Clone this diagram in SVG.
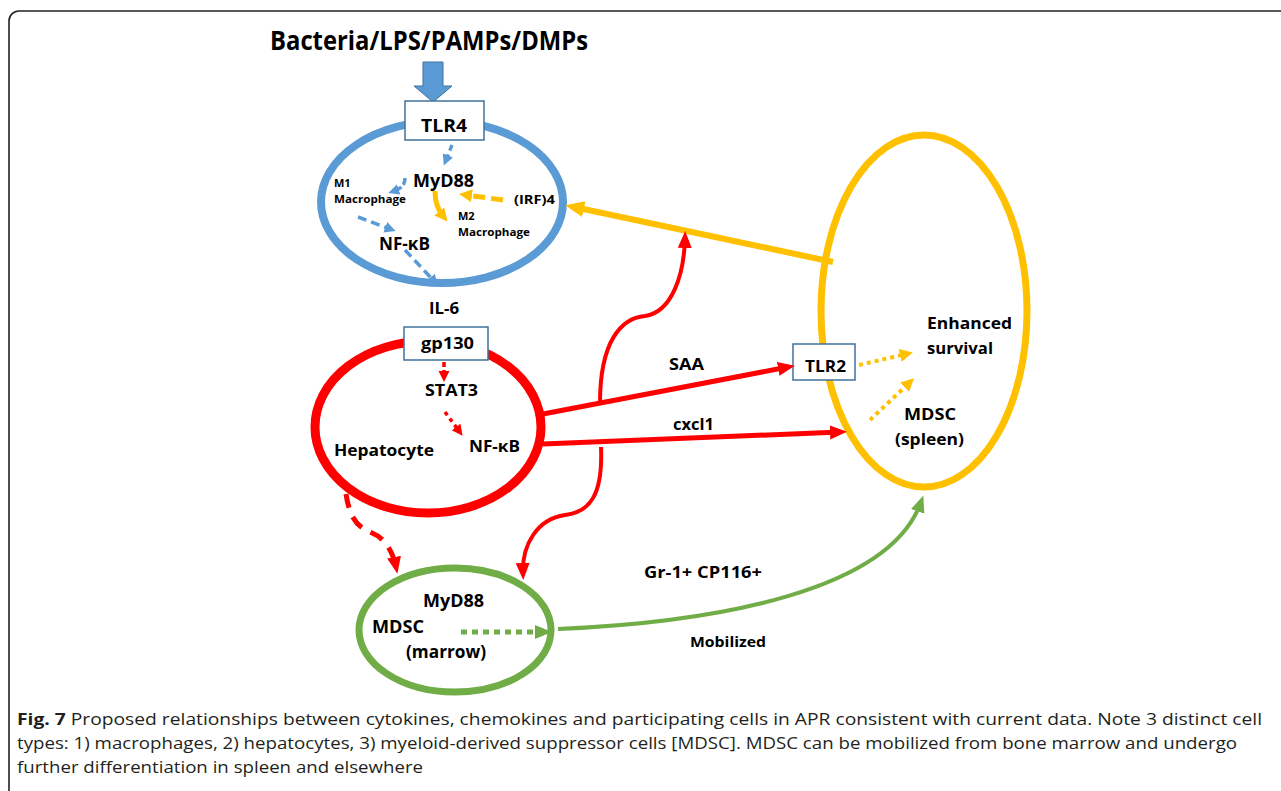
<svg xmlns="http://www.w3.org/2000/svg" width="1281" height="791" viewBox="0 0 1281 791">
<style>
.lbl{font-family:"Open Sans","Liberation Sans",sans-serif;font-weight:bold;fill:#000}
.cap{font-family:"Open Sans","Liberation Sans",sans-serif;fill:#231f20;font-size:15.5px}
.box{fill:#fff;stroke:#41719c;stroke-width:1.5}
.red{fill:none;stroke:#ff0000}
.blu{fill:none;stroke:#5b9bd5}
.yel{fill:none;stroke:#ffc000}
.grn{fill:none;stroke:#70ad47}
</style>
<defs>
<marker id="mRedL" markerUnits="userSpaceOnUse" markerWidth="18" markerHeight="16" refX="10" refY="7" orient="auto"><path d="M0,0 L17,7 L0,14 z" fill="#ff0000"/></marker>
<marker id="mRedS" markerUnits="userSpaceOnUse" markerWidth="12" markerHeight="12" refX="5" refY="5.5" orient="auto"><path d="M0,0 L11,5.5 L0,11 z" fill="#ff0000"/></marker>
<marker id="mBlu" markerUnits="userSpaceOnUse" markerWidth="12" markerHeight="12" refX="5" refY="5.5" orient="auto"><path d="M0,0 L11,5.5 L0,11 z" fill="#5b9bd5"/></marker>
<marker id="mYelL" markerUnits="userSpaceOnUse" markerWidth="20" markerHeight="18" refX="10" refY="8" orient="auto"><path d="M0,0 L19,8 L0,16 z" fill="#ffc000"/></marker>
<marker id="mYelS" markerUnits="userSpaceOnUse" markerWidth="14" markerHeight="14" refX="6" refY="6.5" orient="auto"><path d="M0,0 L13,6.5 L0,13 z" fill="#ffc000"/></marker>
<marker id="mGrn" markerUnits="userSpaceOnUse" markerWidth="18" markerHeight="16" refX="10" refY="7" orient="auto"><path d="M0,0 L17,7 L0,14 z" fill="#70ad47"/></marker>
</defs>
<rect x="9" y="11" width="1320" height="820" rx="10" fill="#fff" stroke="#222" stroke-width="1.6"/>

<text class="lbl" x="270" y="50" font-size="27" textLength="318" lengthAdjust="spacingAndGlyphs">Bacteria/LPS/PAMPs/DMPs</text>
<polygon points="423,62 443,62 443,86 452,86 433,102 414,86 423,86" fill="#5b9bd5" stroke="#41719c" stroke-width="1"/>

<g id="macrophage">
<ellipse cx="442" cy="202" rx="121" ry="81" class="blu" stroke-width="8"/>
<rect x="405" y="101" width="79" height="39" class="box"/>
<text class="lbl" x="421" y="132" font-size="17" textLength="46" lengthAdjust="spacingAndGlyphs">TLR4</text>
<text class="lbl" x="413" y="187" font-size="18" textLength="61" lengthAdjust="spacingAndGlyphs">MyD88</text>
<text class="lbl" x="334" y="187" font-size="11">M1</text>
<text class="lbl" x="334" y="203" font-size="11" textLength="72" lengthAdjust="spacingAndGlyphs">Macrophage</text>
<text class="lbl" x="514" y="204" font-size="13" textLength="41" lengthAdjust="spacingAndGlyphs">(IRF)4</text>
<text class="lbl" x="458" y="220" font-size="11">M2</text>
<text class="lbl" x="458" y="236" font-size="11" textLength="72" lengthAdjust="spacingAndGlyphs">Macrophage</text>
<text class="lbl" x="379" y="250" font-size="17" textLength="51" lengthAdjust="spacingAndGlyphs">NF-κB</text>
</g>

<g id="hepatocyte">
<ellipse cx="428" cy="427" rx="113" ry="86" class="red" stroke-width="9"/>
<rect x="404" y="327" width="84" height="33" class="box"/>
<text class="lbl" x="421" y="349" font-size="16" textLength="53" lengthAdjust="spacingAndGlyphs">gp130</text>
<text class="lbl" x="425" y="396" font-size="16" textLength="53" lengthAdjust="spacingAndGlyphs">STAT3</text>
<text class="lbl" x="469" y="452" font-size="16" textLength="51" lengthAdjust="spacingAndGlyphs">NF-κB</text>
<text class="lbl" x="334" y="456" font-size="16" textLength="100" lengthAdjust="spacingAndGlyphs">Hepatocyte</text>
</g>

<g id="mdsc-spleen">
<ellipse cx="924" cy="311" rx="103" ry="176" class="yel" stroke-width="7"/>
<rect x="793" y="344" width="62" height="36" class="box"/>
<text class="lbl" x="805" y="372" font-size="16" textLength="41" lengthAdjust="spacingAndGlyphs">TLR2</text>
<text class="lbl" x="927" y="329" font-size="16" textLength="85" lengthAdjust="spacingAndGlyphs">Enhanced</text>
<text class="lbl" x="927" y="354" font-size="16" textLength="66" lengthAdjust="spacingAndGlyphs">survival</text>
<text class="lbl" x="904" y="420" font-size="16" textLength="52" lengthAdjust="spacingAndGlyphs">MDSC</text>
<text class="lbl" x="895" y="445" font-size="16" textLength="69" lengthAdjust="spacingAndGlyphs">(spleen)</text>
</g>

<g id="mdsc-marrow">
<ellipse cx="455" cy="630" rx="96" ry="62" class="grn" stroke-width="7"/>
<text class="lbl" x="423" y="607" font-size="17" textLength="61" lengthAdjust="spacingAndGlyphs">MyD88</text>
<text class="lbl" x="372" y="633" font-size="17" textLength="52" lengthAdjust="spacingAndGlyphs">MDSC</text>
<text class="lbl" x="406" y="658" font-size="17" textLength="80" lengthAdjust="spacingAndGlyphs">(marrow)</text>
</g>

<g id="connectors">
<!-- blue internal -->
<path d="M452,145 L446,160" class="blu" stroke-width="3.5" stroke-dasharray="6,4" marker-end="url(#mBlu)"/>
<path d="M405,178 C405,186 400,189 394,191" class="blu" stroke-width="3.5" stroke-dasharray="7,3" marker-end="url(#mBlu)"/>
<path d="M358,217 L390,229" class="blu" stroke-width="3.5" stroke-dasharray="9,5" marker-end="url(#mBlu)"/>
<path d="M405,250 L434,281" class="blu" stroke-width="3.5" stroke-dasharray="9,5" marker-end="url(#mBlu)"/>
<!-- yellow internal -->
<path d="M503,200 L466,195" class="yel" stroke-width="5" stroke-dasharray="12,6" marker-end="url(#mYelS)"/>
<path d="M435,191 C435,203 438,210 443,216" class="yel" stroke-width="5" marker-end="url(#mYelS)"/>
<path d="M833,262 L574,207" class="yel" stroke-width="6" marker-end="url(#mYelL)"/>
<path d="M859,365 L906,354" class="yel" stroke-width="4" stroke-dasharray="4,4" marker-end="url(#mYelS)"/>
<path d="M870,420 L909,383" class="yel" stroke-width="4" stroke-dasharray="4,4" marker-end="url(#mYelS)"/>
<!-- red -->
<text class="lbl" x="429" y="314" font-size="16" textLength="30" lengthAdjust="spacingAndGlyphs">IL-6</text>
<path d="M444,362 L444,376" class="red" stroke-width="3.5" stroke-dasharray="5,3" marker-end="url(#mRedS)"/>
<path d="M445,412 L459,431" class="red" stroke-width="3.5" stroke-dasharray="4,4" marker-end="url(#mRedS)"/>
<path d="M543,414 L788,367" class="red" stroke-width="5" marker-end="url(#mRedL)"/>
<text class="lbl" x="669" y="370" font-size="16" textLength="35" lengthAdjust="spacingAndGlyphs">SAA</text>
<path d="M543,444 L840,432" class="red" stroke-width="5" marker-end="url(#mRedL)"/>
<text class="lbl" x="673" y="430" font-size="16" textLength="41" lengthAdjust="spacingAndGlyphs">cxcl1</text>
<path d="M600,403 C600,340 622,318 645,316 C672,312 684,275 685,238" class="red" stroke-width="4" marker-end="url(#mRedL)"/>
<path d="M601,447 C603,495 590,512 565,515 C537,519 522,545 523,573" class="red" stroke-width="4" marker-end="url(#mRedL)"/>
<path d="M346,494 C350,520 358,527 372,533 C385,538 393,552 396,567" class="red" stroke-width="5" stroke-dasharray="14,10" marker-end="url(#mRedL)"/>
<!-- green -->
<path d="M461,632 L545,632" class="grn" stroke-width="5" stroke-dasharray="6,5" marker-end="url(#mGrn)"/>
<path d="M558,629 C720,622 890,590 921,502" class="grn" stroke-width="4" marker-end="url(#mGrn)"/>
<text class="lbl" x="644" y="578" font-size="16" textLength="118" lengthAdjust="spacingAndGlyphs">Gr-1+ CP116+</text>
<text class="lbl" x="690" y="647" font-size="14" textLength="76" lengthAdjust="spacingAndGlyphs">Mobilized</text>
</g>

<g id="caption">
<text class="cap" x="17" y="725" textLength="1245" lengthAdjust="spacingAndGlyphs"><tspan font-weight="bold">Fig. 7</tspan> Proposed relationships between cytokines, chemokines and participating cells in APR consistent with current data. Note 3 distinct cell</text>
<text class="cap" x="17" y="749" textLength="1220" lengthAdjust="spacingAndGlyphs">types: 1) macrophages, 2) hepatocytes, 3) myeloid-derived suppressor cells [MDSC]. MDSC can be mobilized from bone marrow and undergo</text>
<text class="cap" x="17" y="773" textLength="406" lengthAdjust="spacingAndGlyphs">further differentiation in spleen and elsewhere</text>
</g>
</svg>
